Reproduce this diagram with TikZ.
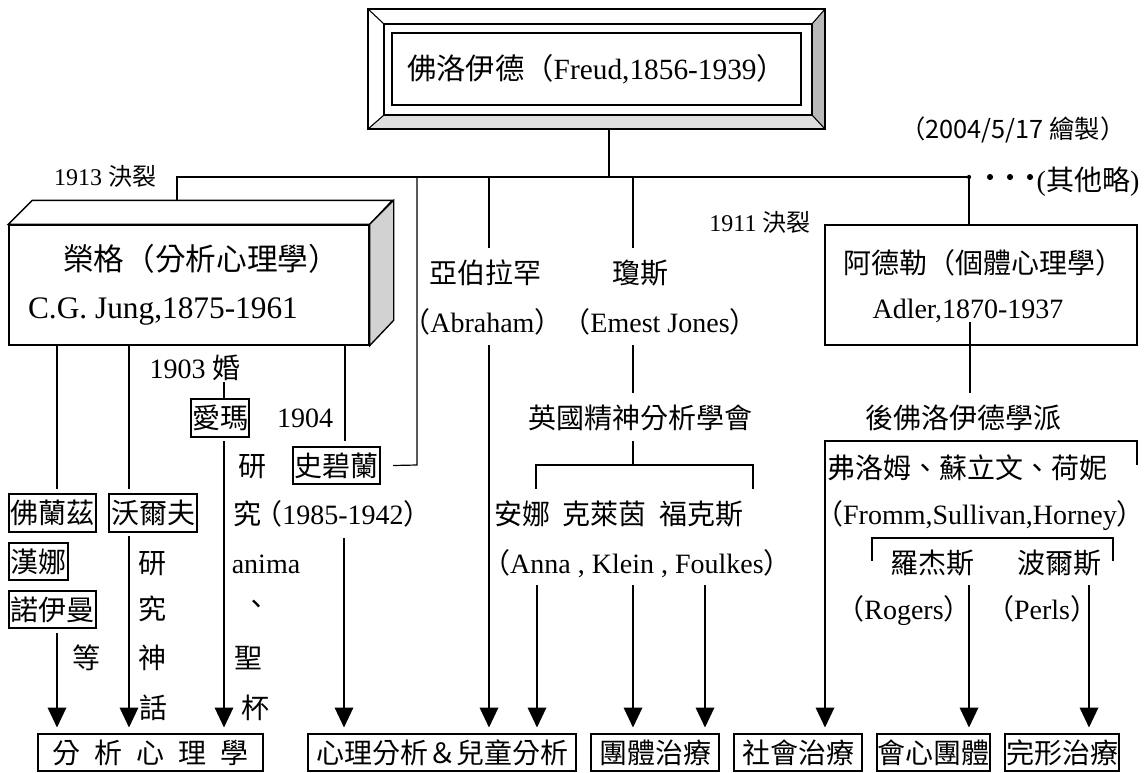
\documentclass[tikz,border=0pt]{standalone}
\usepackage{fontspec}
\setmainfont{Liberation Serif}
\newfontfamily\cjkfont{Noto Sans CJK TC}
\newcommand{\zh}[1]{{\cjkfont #1}}
\usetikzlibrary{arrows.meta}

\tikzset{
  lbl/.style={inner sep=0pt, font=\fontsize{21}{25}\selectfont, text height=18pt, text depth=3pt},
  small/.style={inner sep=0pt, font=\fontsize{18}{21}\selectfont, text height=15pt, text depth=3pt},
  namebox/.style={draw, line width=1.5pt, inner sep=0pt, minimum height=28pt, font=\fontsize{21}{25}\selectfont\cjkfont},
  bigbox/.style={draw, line width=1pt, inner sep=0pt},
  conn/.style={line width=0.9pt},
  arr/.style={conn, -{Triangle[width=14pt,length=15pt]}, shorten >=4pt},
}

\begin{document}
\begin{tikzpicture}[x=0.75pt,y=-0.75pt]
		\useasboundingbox (0,0) rectangle (1145,772);

		% Freud frame
		\node[bigbox, minimum width=342.75pt, minimum height=90pt] (freudframe) at (596.5,69) {};
		\fill[gray!25] (368,129) -- (384,115) -- (812,115) -- (825,129) -- cycle;
		\fill[gray!55] (825,9) -- (812,24) -- (812,115) -- (825,129) -- cycle;
		\draw[line width=1pt] (368,9) rectangle (825,129);
		\draw[line width=1pt] (384,24) rectangle (812,115);
		\draw[line width=0.8pt] (368,9) -- (384,24) (825,9) -- (812,24) (368,129) -- (384,115) (825,129) -- (812,115);
		\node[bigbox, minimum width=306.75pt, minimum height=54pt, font=\fontsize{22}{26}\selectfont] (freud) at (596.5,69) {\zh{佛洛伊德（}Freud,1856-1939\zh{）}};

		% Jung box
		\node[bigbox, minimum width=270pt, minimum height=90pt] (jung) at (189,285) {};
		\filldraw[line width=1pt, fill=white] (jung.north west) -- ++(24,-24) -- ++(360,0) -- (jung.north east) -- cycle;
		\filldraw[line width=1pt, fill=gray!35] (jung.north east) -- ++(24,-24) -- ++(0,120) -- (jung.south east) -- cycle;
		\node[lbl, font=\fontsize{23}{27}\selectfont] (jungzh) at (201,260) {\zh{榮格（分析心理學）}};
		\node[lbl, font=\fontsize{23.5}{27}\selectfont] (jungen) at (163,308) {C.G. Jung,1875-1961};

		% Adler box
		\node[bigbox, minimum width=234pt, minimum height=90pt] (adler) at (981,285) {};
		\node[lbl] (adlerzh) at (983,263) {\zh{阿德勒（個體心理學）}};
		\node[lbl] (adleren) at (968,308) {Adler,1870-1937};

		% labels
		\node[small] (split13) at (105,177) {1913 \zh{決裂}};
		\node[small] (split11) at (760,223) {1911 \zh{決裂}};
		\node[small, font=\fontsize{19}{22}\selectfont\cjkfont] (drawn) at (1013,130) {（2004/5/17 繪製）};
		\node[lbl] (others) at (1088,180) {(\zh{其他略})};

		\node[lbl] (abrzh) at (485,273) {\zh{亞伯拉罕}};
		\node[lbl] (joneszh) at (640,273) {\zh{瓊斯}};
		\node[lbl] (abrjonesen) at (580,322) {\zh{（}Abraham\zh{）（}Emest Jones\zh{）}};
		\node[lbl] (bpas) at (640,418) {\zh{英國精神分析學會}};
		\node[lbl] (akfzh) at (619,514) {\zh{安娜\hspace{0.45em}克萊茵\hspace{0.45em}福克斯}};
		\node[lbl] (akfen) at (637,563) {\zh{（}Anna , Klein , Foulkes\zh{）}};

		\node[lbl] (postf) at (963,418) {\zh{後佛洛伊德學派}};
		\node[lbl] (fshzh) at (967,468) {\zh{弗洛姆、蘇立文、荷妮}};
		\node[lbl] (fshen) at (980,514) {\zh{（}Fromm,Sullivan,Horney\zh{）}};
		\node[lbl] (rogzh) at (932,563) {\zh{羅杰斯}};
		\node[lbl] (perzh) at (1059,563) {\zh{波爾斯}};
		\node[lbl] (rogen) at (904,609) {\zh{（}Rogers\zh{）}};
		\node[lbl] (peren) at (1042,609) {\zh{（}Perls\zh{）}};

		\node[lbl] (married) at (195,368) {1903 \zh{婚}};
		\node[lbl] (y1904) at (305,417) {1904};
		\node[lbl] (deng) at (86,658) {\zh{等}};
		\node[lbl] (yan1) at (152,563) {\zh{研}};
		\node[lbl] (jiu1) at (152,609) {\zh{究}};
		\node[lbl] (shen1) at (152,658) {\zh{神}};
		\node[lbl] (hua1) at (153,708) {\zh{話}};
		\node[lbl] (yan2) at (252,466) {\zh{研}};
		\node[lbl] (jiu2) at (247,514) {\zh{究}};
		\node[lbl] (sbyears) at (343,514) {\zh{（}1985-1942\zh{）}};
		\node[lbl] (anima) at (266,563) {anima};
		\node[lbl] (dun) at (256,604) {\zh{、}};
		\node[lbl] (sheng) at (248,658) {\zh{聖}};
		\node[lbl] (bei) at (255,708) {\zh{杯}};

		% name boxes
		\node[namebox, minimum width=65.25pt] (folanzi) at (52.5,513) {佛蘭茲};
		\node[namebox, minimum width=44.25pt] (hanna) at (38.5,561.5) {漢娜};
		\node[namebox, minimum width=65.25pt] (nuoyi) at (52.5,609.5) {諾伊曼};
		\node[namebox, minimum width=66pt] (wolf) at (153,513) {沃爾夫};
		\node[namebox, minimum width=43.5pt] (ema) at (220,418) {愛瑪};
		\node[namebox, minimum width=65.25pt] (shibilan) at (336.5,465.5) {史碧蘭};

		% bottom boxes
		\node[namebox, minimum width=168.75pt] (fenxi) at (150.5,752.5) {分\enspace 析\enspace 心\enspace 理\enspace 學};
		\node[namebox, minimum width=201pt] (xinli) at (442,752.5) {心理分析＆兒童分析};
		\node[namebox, minimum width=96pt] (tuanti) at (655,752.5) {團體治療};
		\node[namebox, minimum width=96pt] (shehui) at (798,752.5) {社會治療};
		\node[namebox, minimum width=85pt] (huixin) at (933.5,752.5) {會心團體};
		\node[namebox, minimum width=85.5pt] (wanxing) at (1062,752.5) {完形治療};

		% coordinates
		\coordinate (trunk) at (609,177);
		\coordinate (jungback) at (177,201); \coordinate (barL) at (177,177); \coordinate (barR) at (969,177);
		\coordinate (sbTop) at (417,177); \coordinate (sbCorner) at (417,465);
		\coordinate (abrTop) at (489,177); \coordinate (abrA) at (489,248); \coordinate (abrB) at (489,345);
		\coordinate (jonTop) at (633,177); \coordinate (jonA) at (633,248); \coordinate (jonB) at (633,345);
		\coordinate (jonC) at (633,393); \coordinate (jonD) at (633,441); \coordinate (brL) at (536,465); \coordinate (brR) at (753,465);
		\coordinate (anna) at (537,585); \coordinate (klein) at (633,585); \coordinate (foulkes) at (705,585);
		\coordinate (adlA) at (970,322); \coordinate (adlB) at (970,393);
		\coordinate (pfL) at (825,441); \coordinate (pfR) at (1137,441);
		\coordinate (rpL) at (872,538); \coordinate (rpR) at (1113,538);
		\coordinate (rogers) at (969,585); \coordinate (perls) at (1089,585);
		\coordinate (leg1) at (57,489); \coordinate (leg2) at (129,489); \coordinate (leg3) at (345,441);
		\coordinate (arrF) at (57,633); \coordinate (arrW) at (129,536); \coordinate (emaA) at (224,382);
		\coordinate (arrE) at (224,441); \coordinate (arrS) at (344,538);

		% top connectors
		\draw[conn] (freudframe.south -| trunk) -- (trunk);
		\draw[conn] (jungback) -- (barL) -- (barR) -- (adler.north -| barR);
		\fill (barR) circle (1.6pt);
		\fill (990,177) circle (2.3pt); \fill (1010,177) circle (2.3pt); \fill (1030,177) circle (2.3pt);
		\draw[conn] (sbTop) -- (sbCorner) -- ([xshift=9pt]shibilan.east);
		\draw[conn] (abrTop) -- (abrA);
		\draw[arr] (abrB) -- (abrB |- xinli.north);
		\draw[conn] (jonTop) -- (jonA); \draw[conn] (jonB) -- (jonC);
		\draw[conn] (jonD) -- (jonD |- brL);
		\draw[conn] (brL) ++(0,24) -- (brL) -- (brR) -- ++(0,24);
		\draw[arr] (anna) -- (anna |- xinli.north);
		\draw[arr] (klein) -- (klein |- tuanti.north);
		\draw[arr] (foulkes) -- (foulkes |- tuanti.north);

		% Adler side
		\draw[conn] (adlA) -- (adlB);
		\draw[arr] (pfR) ++(0,24) -- (pfR) -- (pfL) -- (pfL |- shehui.north);
		\draw[conn] (rpL) ++(0,23) -- (rpL) -- (rpR) -- ++(0,23);
		\draw[arr] (rogers) -- (rogers |- huixin.north);
		\draw[arr] (perls) -- (perls |- wanxing.north);

		% Jung side
		\draw[conn] (jung.south -| leg1) -- (leg1);
		\draw[conn] (jung.south -| leg2) -- (leg2);
		\draw[conn] (jung.south -| leg3) -- (leg3);
		\draw[conn] (emaA) -- (ema.north -| emaA);
		\draw[arr] (arrF) -- (arrF |- fenxi.north);
		\draw[arr] (arrW) -- (arrW |- fenxi.north);
		\draw[arr] (arrE) -- (arrE |- fenxi.north);
		\draw[arr] (arrS) -- (arrS |- xinli.north);
\end{tikzpicture}
\end{document}
